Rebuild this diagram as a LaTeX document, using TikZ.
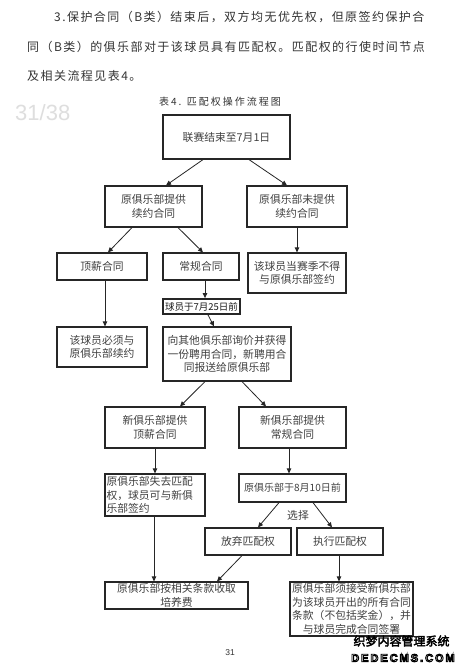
\documentclass[tikz,border=0pt]{standalone}
\usepackage{fontspec}
\setmainfont{Liberation Serif}
\newfontfamily\cjk{Noto Sans CJK SC}
\newfontfamily\cjkls[LetterSpace=12]{Noto Sans CJK SC}
\newfontfamily\cjkcap[LetterSpace=20]{Noto Sans CJK SC}
\newfontfamily\cjkb[FakeBold=3]{Noto Sans CJK SC}
\newfontfamily\lsans{Liberation Sans}
\newfontfamily\lsansw[LetterSpace=18]{Liberation Sans}
\usetikzlibrary{arrows.meta,calc}
\newcommand\bxfont{\cjk\fontsize{10.8}{13.5}\selectfont}
\newcommand\outlinetxt[1]{\special{pdf:literal direct 2 Tr 0.9 w 0 0 0 RG}#1\special{pdf:literal direct 0 Tr}}
\tikzset{
  box/.style={draw=black!85, line width=1.2pt, inner sep=0pt, align=center, font=\bxfont, text=black!75},
  arr/.style={draw=black!85, line width=0.8pt, -{Triangle[length=5pt,width=4.5pt]}},
  para/.style={anchor=west, inner sep=0pt, text=black!80, font=\cjkls\fontsize{12}{12}\selectfont},
}
\begin{document}
\begin{tikzpicture}[x=1pt,y=-1pt]
\useasboundingbox (0,0) rectangle (462,668);
\fill[white] (0,0) rectangle (462,668);

% paragraph
\node[para] (p1) at (54,17) {3.保护合同（B类）结束后，双方均无优先权，但原签约保护合};
\node[para] (p2) at (27,47) {同（B类）的俱乐部对于该球员具有匹配权。匹配权的行使时间节点};
\node[para] (p3) at (27,76) {及相关流程见表4。};
\node[inner sep=0pt, text=black!80, font=\cjkcap\fontsize{10}{10}\selectfont] (cap) at (220,102) {表4. 匹配权操作流程图};
\node[anchor=west, inner sep=0pt, text=black!13, font=\lsans\fontsize{22}{22}\selectfont] (pg) at (15,113) {31/38};

% boxes
\node[box, minimum width=127pt, minimum height=44pt] (n1) at (226.5,137) {联赛结束至7月1日};
\node[box, minimum width=97pt, minimum height=41pt] (n2) at (153.5,206.5) {原俱乐部提供\\续约合同};
\node[box, minimum width=100pt, minimum height=41pt] (n3) at (297,206.5) {原俱乐部未提供\\续约合同};
\node[box, minimum width=90pt, minimum height=27pt] (n4) at (102,266.5) {顶薪合同};
\node[box, minimum width=76pt, minimum height=27pt] (n5) at (201,266.5) {常规合同};
\node[box, minimum width=98pt, minimum height=40pt] (n6) at (297,273) {该球员当赛季不得\\与原俱乐部签约};
\node[box, line width=1.8pt, text=black!90, minimum width=77pt, minimum height=15pt, font=\cjk\fontsize{9.5}{10}\selectfont] (n7) at (201.5,306.5) {球员于7月25日前};
\node[box, minimum width=90pt, minimum height=40pt] (n8) at (102,347) {该球员必须与\\原俱乐部续约};
\node[box, minimum width=128pt, minimum height=54pt] (n9) at (227,354) {向其他俱乐部询价并获得\\一份聘用合同，新聘用合\\同报送给原俱乐部};
\node[box, minimum width=100pt, minimum height=41pt] (n10) at (155,427.5) {新俱乐部提供\\顶薪合同};
\node[box, minimum width=107pt, minimum height=41pt] (n11) at (292.5,427.5) {新俱乐部提供\\常规合同};
\node[box, align=left, text width=97pt, inner xsep=1.5pt, minimum height=42pt] (n12) at (155,495) {原俱乐部失去匹配\\权，球员可与新俱\\乐部签约};
\node[box, minimum width=107pt, minimum height=28pt, font=\cjk\fontsize{10}{12}\selectfont] (n13) at (292.5,488) {原俱乐部于8月10日前};
\node[box, minimum width=86pt, minimum height=27pt] (n14) at (248,541.5) {放弃匹配权};
\node[box, minimum width=86pt, minimum height=27pt] (n15) at (340,541.5) {执行匹配权};
\node[box, minimum width=143pt, minimum height=27pt] (n16) at (176.5,595.5) {原俱乐部按相关条款收取\\培养费};
\node[box, minimum width=123pt, minimum height=54pt] (n17) at (351.5,609) {原俱乐部须接受新俱乐部\\为该球员开出的所有合同\\条款（不包括奖金），并\\与球员完成合同签署};

\node[inner sep=0pt, text=black!75, font=\bxfont] (sel) at (298,515) {选择};

% connectors
\draw[arr] ([xshift=-23.5pt]n1.south) -- ([xshift=12.5pt]n2.north);
\draw[arr] ([xshift=22.5pt]n1.south) -- ([xshift=-10pt]n3.north);
\draw[arr] ([xshift=-21.5pt]n2.south) -- ([xshift=6pt]n4.north);
\draw[arr] ([xshift=24.5pt]n2.south) -- ([xshift=2pt]n5.north);
\draw[arr] (n3.south) -- (n6.north);
\draw[arr] ([xshift=3pt]n4.south) -- ([xshift=3pt]n8.north);
\draw[arr] ([xshift=4pt]n5.south) -- ([xshift=3.5pt]n7.north);
\draw[arr] ([xshift=6.5pt]n7.south) -- ([xshift=-13pt]n9.north);
\draw[arr] ([xshift=-22pt]n9.south) -- ([xshift=25pt]n10.north);
\draw[arr] ([xshift=15pt]n9.south) -- ([xshift=-26.5pt]n11.north);
\draw[arr] (n10.south) -- (n12.north);
\draw[arr] ([xshift=-3.5pt]n11.south) -- ([xshift=-3.5pt]n13.north);
\draw[arr] ([xshift=-13.5pt]n13.south) -- ([xshift=10pt]n14.north);
\draw[arr] ([xshift=20.5pt]n13.south) -- ([xshift=-8pt]n15.north);
\draw[arr] ([xshift=-1pt]n12.south) -- ([xshift=-22.5pt]n16.north);
\draw[arr] ([xshift=-6pt]n14.south) -- ([xshift=40.5pt]n16.north);
\draw[arr] ([xshift=-1pt]n15.south) -- ([xshift=-12.5pt]n17.north);

% page number
\node[inner sep=0pt, text=black!80, font=\lsans\fontsize{8.5}{9}\selectfont] (pno) at (230,653) {31};

% watermark
\node[inner sep=0pt, text=black, font=\cjkb\fontsize{12}{12}\selectfont] (wm1) at (401.5,641) {织梦内容管理系统};
\node[inner sep=0pt, text=white, font=\lsansw\bfseries\fontsize{11}{11}\selectfont] (wm2) at (403,658) {\outlinetxt{DEDECMS.COM}};
\end{tikzpicture}
\end{document}
